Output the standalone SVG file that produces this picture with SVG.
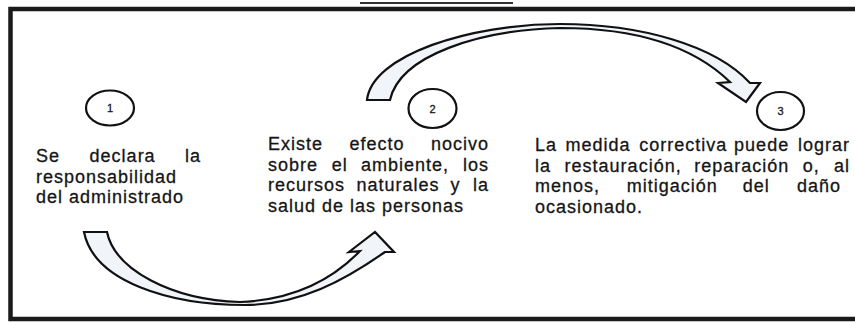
<svg xmlns="http://www.w3.org/2000/svg" width="855" height="323" viewBox="0 0 855 323">
<style>
.t{font-family:"Liberation Sans",Arial,sans-serif;font-size:18px;letter-spacing:1px;fill:#151515;stroke:#151515;stroke-width:0.3}
.e{text-anchor:end}
.n{font-family:"Liberation Sans",Arial,sans-serif;font-size:11px;fill:#151515;stroke:#151515;stroke-width:0.3;text-anchor:middle}
.c{fill:#fff;stroke:#111;stroke-width:2.2}
.a{fill:#f1f4f8;stroke:#111;stroke-width:2.2;stroke-linejoin:miter}
</style>
<rect width="855" height="323" fill="#fff"/>
<g id="frame">
<line x1="360" y1="3" x2="513" y2="3" stroke="#333" stroke-width="2"/>
<path d="M857,9 L10.5,9 L10.5,319 L857,319" fill="none" stroke="#1a1a1a" stroke-width="4.5"/>
</g>
<g id="connectors">
<path class="a" d="M84,232 C94,282 170,305 245,305 C300,305 345,280 385,252 L394,252 L375,232 L349,252 L360,251 C330,282 290,300 240,302 C172,300 115,270 107,232 Z"/>
<path class="a" d="M367,100 C372,55 470,24 560,24 C640,24 715,45 750,83 L760,83 L746,102 L718,83 L730,82 C695,48 640,28 560,28 C480,30 400,55 390,100 Z"/>
</g>
<g id="node1">
<ellipse class="c" cx="110" cy="108" rx="24" ry="17.5"/>
<text class="n" x="110" y="112">1</text>
<text class="t" y="162"><tspan x="36">Se</tspan><tspan x="89.6">declara</tspan></text>
<text class="t e" x="201" y="162">la</text>
<text class="t" x="36" y="182.5">responsabilidad</text>
<text class="t" x="36" y="203">del administrado</text>
</g>
<g id="node2">
<ellipse class="c" cx="432.5" cy="108.5" rx="24" ry="19.5"/>
<text class="n" x="432.5" y="112.5">2</text>
<text class="t" y="150"><tspan x="268">Existe</tspan><tspan x="349.5">efecto</tspan></text>
<text class="t e" x="489" y="150">nocivo</text>
<text class="t" y="170.5"><tspan x="268">sobre</tspan><tspan x="331.7">el</tspan><tspan x="361">ambiente,</tspan></text>
<text class="t e" x="489" y="170.5">los</text>
<text class="t" y="191"><tspan x="268">recursos</tspan><tspan x="356.5">naturales</tspan><tspan x="450.6">y</tspan></text>
<text class="t e" x="489" y="191">la</text>
<text class="t" x="268" y="211.5">salud de las personas</text>
</g>
<g id="node3">
<ellipse class="c" cx="780.5" cy="111" rx="23.5" ry="19"/>
<text class="n" x="780.5" y="115">3</text>
<text class="t" y="151"><tspan x="535">La</tspan><tspan x="565.4">medida</tspan><tspan x="639.2">correctiva</tspan><tspan x="734.1">puede</tspan></text>
<text class="t e" x="850" y="151">lograr</text>
<text class="t" y="171.5"><tspan x="535">la</tspan><tspan x="564.6">restauración,</tspan><tspan x="694.2">reparación</tspan><tspan x="802.7">o,</tspan></text>
<text class="t e" x="850" y="171.5">al</text>
<text class="t" y="192"><tspan x="535">menos,</tspan><tspan x="626.7">mitigación</tspan><tspan x="742.8">del</tspan></text>
<text class="t e" x="841" y="192">daño</text>
<text class="t" x="535" y="212.5">ocasionado.</text>
</g>
</svg>
